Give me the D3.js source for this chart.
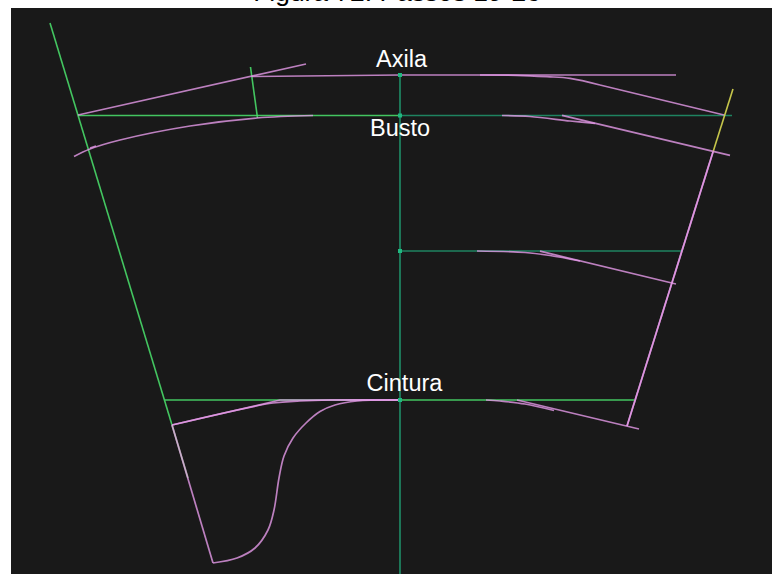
<!DOCTYPE html>
<html>
<head>
<meta charset="utf-8">
<script src="https://cdn.jsdelivr.net/npm/d3@7"></script>
<style>
html, body { margin: 0; padding: 0; background: #fff; overflow: hidden; }
text { font-family: "Liberation Sans", Arial, sans-serif; }
</style>
</head>
<body>
<div id="chart"></div>
<script>
// pattern coordinates, origin = centre line at the waist, y goes up
var titleText = "Figura 72: Passos 19-26";
var labelNames = ["Axila", "Busto", "Cintura"];
var labelPos = [[0.15, 33.3], [0, 26.4], [0.45, 0.9]];

var centerLine = [[0, 32.5], [0, -17.4]];
var markers = [[0, 32.5], [0, 28.45], [0, 14.9], [0, 0]];

// green guides
var brightGreen = [
    [[-35, 37.7], [-22.8, -2.5]],
    [[-14.95, 33.3], [-14.25, 28.2]],
    [[-32.2, 28.45], [0, 28.45]],
    [[-23.5, 0], [0, 0]],
    [[0, 0], [23.4, 0]]
];
var tealGreen = [
    [[0, 28.45], [33.2, 28.45]],
    [[0, 14.9], [28.2, 14.9]]
];
var yellowLine = [[33.3, 31.1], [31.3, 24.8]];

// straight pattern lines
var pinkLines = [
    [[-32.2, 28.5], [-9.4, 33.6]],
    [[-14.8, 32.35], [0, 32.5], [27.6, 32.5]],
    [[20, 31.5], [32.4, 28.5]],
    [[16.2, 28.47], [33, 24.47]],
    [[14, 14.88], [27.6, 11.6]],
    [[11.7, 0], [23.9, -2.9]],
    [[31.3, 24.8], [22.7, -2.6]],
    [[31.3, 24.8], [22.7, -2.6]],
    [[-22.8, -2.5], [-12, 0], [0, 0]],
    [[-22.8, -2.5], [-18.7, -16.3]],
    [[-31, 25.2], [-30.4, 25.4]]
];
var greyTail = [[-22.8, -2.5], [-21.2, -7.8]];

// curved pattern lines
var pinkCurves = [
    [[-32.6, 24.35], [-31, 25.1], [-28, 26], [-21, 27.4], [-14.3, 28.2], [-8.7, 28.45]],
    [[8, 32.5], [11.7, 32.47], [14.7, 32.33], [17, 32.17], [20, 31.5]],
    [[10.2, 28.45], [13, 28.35], [17, 27.9], [19.5, 27.65]],
    [[7.7, 14.9], [12.5, 14.75], [15, 14.45], [18, 13.9]],
    [[8.6, 0], [10, -0.1], [12.5, -0.4], [15.4, -1.05]],
    [[-22.8, -2.5], [-12.7, -0.3], [-10, -0.1], [-7, 0], [0, 0]],
    [[0, 0], [-4.3, -0.1], [-6.5, -0.5], [-8, -1.15], [-9.4, -2.3], [-10.7, -3.8], [-11.6, -5.6],
     [-12.1, -7.8], [-12.6, -11], [-13.2, -13], [-14.5, -14.8], [-16.3, -15.8], [-18.7, -16.3]]
];

var width = 772, height = 574;

var x = d3.scaleLinear().domain([-38.9, 37.2]).range([11, 772]);
var y = d3.scaleLinear().domain([39.2, -17.4]).range([8, 574]);

var svg = d3.select("#chart")
    .append("svg")
    .attr("width", width)
    .attr("height", height)
    .style("display", "block");

svg.append("rect")
    .attr("x", x(-38.9))
    .attr("y", y(39.2))
    .attr("width", x(37.2) - x(-38.9))
    .attr("height", y(-17.4) - y(39.2))
    .attr("fill", "#191919");

var straight = d3.line().x(function(d){ return x(d[0]) }).y(function(d){ return y(d[1]) });
var curved = d3.line().x(function(d){ return x(d[0]) }).y(function(d){ return y(d[1]) }).curve(d3.curveCatmullRom.alpha(0.5));

function drawLines(rows, gen, color, w, op) {
    svg.append("g")
        .selectAll("path")
        .data(rows)
        .enter()
        .append("path")
        .attr("d", gen)
        .attr("fill", "none")
        .attr("stroke", color)
        .attr("stroke-width", w)
        .attr("stroke-opacity", op);
}

drawLines(brightGreen, straight, "#48d868", 1.6, 0.9);
drawLines(tealGreen, straight, "#1f8f68", 1.6, 0.9);
drawLines([centerLine], straight, "#1f9a70", 1.6, 0.9);
drawLines([yellowLine], straight, "#d8d850", 1.6, 0.9);
drawLines(pinkLines, straight, "#e59ae8", 1.7, 0.8);
drawLines(pinkCurves, curved, "#e59ae8", 1.7, 0.8);
drawLines([greyTail], straight, "#d0d0d0", 1.7, 0.6);

// little squares on the centre line
svg.append("g")
    .selectAll("rect")
    .data(markers)
    .enter()
    .append("rect")
    .attr("x", function(d){ return x(d[0]) - 2 })
    .attr("y", function(d){ return y(d[1]) - 2 })
    .attr("width", 4)
    .attr("height", 4)
    .attr("fill", "#20b880");

svg.append("g")
    .selectAll("text")
    .data(labelNames)
    .enter()
    .append("text")
    .attr("x", function(d, i){ return x(labelPos[i][0]) })
    .attr("y", function(d, i){ return y(labelPos[i][1]) })
    .attr("text-anchor", "middle")
    .attr("font-size", 23.5)
    .attr("fill", "#ffffff")
    .text(function(d){ return d });

svg.append("text")
    .attr("x", 397)
    .attr("y", 1)
    .attr("text-anchor", "middle")
    .attr("font-size", 26.4)
    .attr("fill", "#000000")
    .text(titleText);
</script>
</body>
</html>
